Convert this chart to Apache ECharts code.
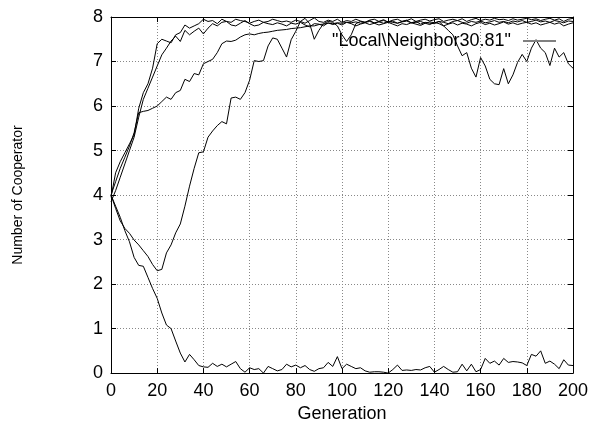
<!DOCTYPE html>
<html>
<head>
<meta charset="utf-8">
<script src="https://cdn.jsdelivr.net/npm/echarts@6/dist/echarts.min.js"></script>
<style>
  html, body { margin: 0; padding: 0; background: #fff; }
  #chart { width: 592px; height: 428px; }
</style>
</head>
<body>
<div id="chart"></div>
<script>
// generations sampled every 2 steps
const generations = [
    0, 2, 4, 6, 8, 10, 12, 14, 16, 18,
    20, 22, 24, 26, 28, 30, 32, 34, 36, 38,
    40, 42, 44, 46, 48, 50, 52, 54, 56, 58,
    60, 62, 64, 66, 68, 70, 72, 74, 76, 78,
    80, 82, 84, 86, 88, 90, 92, 94, 96, 98,
    100, 102, 104, 106, 108, 110, 112, 114, 116, 118,
    120, 122, 124, 126, 128, 130, 132, 134, 136, 138,
    140, 142, 144, 146, 148, 150, 152, 154, 156, 158,
    160, 162, 164, 166, 168, 170, 172, 174, 176, 178,
    180, 182, 184, 186, 188, 190, 192, 194, 196, 198,
    200
];

// run that dies out
const runA = [
    4.0, 3.75, 3.5, 3.2, 2.95, 2.6, 2.42, 2.4, 2.15, 1.9,
    1.68, 1.35, 1.08, 1.0, 0.72, 0.45, 0.25, 0.42, 0.3, 0.17,
    0.14, 0.13, 0.22, 0.15, 0.2, 0.14, 0.2, 0.26, 0.1, 0.02,
    0.12, 0.08, 0.1, 0.0, 0.15, 0.1, 0.05, 0.08, 0.2, 0.14,
    0.18, 0.12, 0.17, 0.08, 0.04, 0.1, 0.12, 0.24, 0.15, 0.37,
    0.1, 0.2, 0.15, 0.1, 0.12, 0.05, 0.02, 0.03, 0.03, 0.02,
    0.0, 0.08, 0.18, 0.06, 0.07, 0.06, 0.08, 0.07, 0.12, 0.15,
    0.02, 0.08, 0.15, 0.08, 0.02, 0.03, 0.2, 0.05, 0.2, 0.03,
    0.08, 0.33, 0.22, 0.27, 0.18, 0.33, 0.24, 0.26, 0.25, 0.23,
    0.17, 0.42, 0.38, 0.5, 0.22, 0.27, 0.2, 0.1, 0.3, 0.18,
    0.17
];

// dips to ~2.3 then recovers
const runB = [
    4.0, 3.7, 3.42, 3.25, 3.14, 2.99, 2.88, 2.75, 2.62, 2.44,
    2.3, 2.33, 2.7, 2.88, 3.15, 3.35, 3.75, 4.2, 4.6, 4.95,
    4.97, 5.3, 5.44, 5.56, 5.65, 5.6, 6.18, 6.2, 6.15, 6.3,
    6.58, 7.02, 7.0, 7.02, 7.35, 7.53, 7.5, 7.3, 7.1, 7.49,
    7.68, 7.9, 7.97, 7.85, 7.5, 7.7, 7.85, 7.9, 7.88, 7.8,
    7.6, 7.45, 7.6, 7.85, 7.9, 7.88, 7.92, 7.86, 7.9, 7.94,
    7.88, 7.91, 7.86, 7.9, 7.93, 7.87, 7.9, 7.84, 7.88, 7.86,
    7.85, 7.9, 7.8, 7.7, 7.6, 7.35, 7.13, 7.2, 6.85, 6.65,
    7.09, 6.9, 6.6, 6.5, 6.48, 6.84, 6.5, 6.7, 6.98, 7.16,
    7.0, 7.3, 7.49, 7.3, 7.2, 6.91, 7.3, 7.1, 7.2, 6.95,
    6.85
];

const runC = [
    4.0, 4.3, 4.6, 4.85, 5.1, 5.4, 5.85, 5.88, 5.9, 5.95,
    6.0, 6.1, 6.2, 6.15, 6.3, 6.35, 6.6, 6.55, 6.73, 6.7,
    6.95, 7.0, 7.05, 7.2, 7.4, 7.46, 7.45, 7.48, 7.55, 7.6,
    7.62, 7.6, 7.63, 7.65, 7.66, 7.68, 7.7, 7.71, 7.72, 7.74,
    7.75, 7.76, 7.78, 7.8, 7.8, 7.83, 7.84, 7.86, 7.85, 7.87,
    7.86, 7.88, 7.87, 7.89, 7.86, 7.88, 7.9, 7.87, 7.89, 7.86,
    7.9, 7.88, 7.86, 7.89, 7.91, 7.87, 7.88, 7.9, 7.86, 7.89,
    7.87, 7.9, 7.88, 7.85, 7.9, 7.92, 7.88, 7.86, 7.9, 7.88,
    7.91, 7.87, 7.89, 7.92, 7.88, 7.9, 7.87, 7.91, 7.89, 7.92,
    7.88, 7.9, 7.93, 7.89, 7.91, 7.88, 7.92, 7.9, 7.87, 7.91,
    7.9
];

const runD = [
    3.95, 4.5, 4.75, 4.95, 5.15, 5.35, 5.95, 6.3, 6.5, 6.85,
    7.4, 7.5, 7.46, 7.42, 7.6, 7.65, 7.82, 7.75, 7.8, 7.85,
    7.95, 7.9, 7.92, 7.85, 7.95, 7.9, 7.88, 7.95, 7.92, 7.9,
    7.86, 7.9, 7.93, 7.88, 7.9, 7.95, 7.92, 7.89, 7.91, 7.88,
    7.93, 7.9, 7.86, 7.92, 7.98, 7.9, 7.88, 7.93, 7.9, 7.95,
    7.88, 7.92, 7.9, 7.95, 7.91, 7.88, 7.93, 7.95, 7.9, 7.92,
    7.89, 7.93, 7.95, 7.9, 7.92, 7.96, 7.9, 7.93, 7.95, 7.91,
    7.94, 7.96, 7.9, 7.93, 7.95, 7.92, 7.96, 7.9, 7.94, 7.97,
    7.92, 7.95, 7.93, 7.97, 7.94, 7.95, 7.92, 7.96, 7.93, 7.95,
    7.97, 7.94, 7.96, 7.92, 7.95, 7.97, 7.93, 7.96, 7.9, 7.95,
    7.97
];

const runE = [
    3.85, 4.1, 4.4, 4.7, 5.0, 5.3, 5.75, 6.15, 6.4, 6.65,
    6.9, 7.15, 7.3, 7.46, 7.57, 7.45, 7.7, 7.6, 7.68, 7.75,
    7.62, 7.75, 7.85, 7.8, 7.88, 7.9, 7.82, 7.8, 7.86, 7.92,
    7.85, 7.8, 7.82, 7.88, 7.85, 7.83, 7.87, 7.84, 7.8, 7.86,
    7.84, 7.88, 7.82, 7.78, 7.85, 7.84, 7.8, 7.87, 7.83, 7.86,
    7.82, 7.88, 7.85, 7.8, 7.84, 7.87, 7.83, 7.86, 7.82, 7.85,
    7.88, 7.84, 7.8, 7.85, 7.83, 7.87, 7.84, 7.81, 7.86, 7.83,
    7.88, 7.85, 7.8, 7.84, 7.87, 7.82, 7.86, 7.84, 7.8, 7.85,
    7.88, 7.83, 7.86, 7.82, 7.85, 7.89, 7.84, 7.87, 7.83, 7.86,
    7.88, 7.84, 7.87, 7.82, 7.85, 7.88, 7.84, 7.87, 7.8, 7.84,
    7.87
];

const runs = [runA, runB, runC, runD, runE];
const seriesName = '"Local\\Neighbor30.81"';
const font = 'Liberation Sans, Helvetica, Arial, sans-serif';

const chart = echarts.init(document.getElementById('chart'), null, { renderer: 'canvas' });

const tickStyle = { show: true, inside: true, length: 5, lineStyle: { color: '#000', width: 1 } };
const borderLine = { show: true, onZero: false, lineStyle: { color: '#000', width: 1 } };
const gridLine = { show: true, lineStyle: { color: '#888', type: [1, 2], width: 1 } };

chart.setOption({
    animation: false,
    backgroundColor: '#fff',
    textStyle: { fontFamily: font },
    grid: { left: 111, right: 19, top: 17, bottom: 47 },
    legend: {
        data: [{ name: seriesName, icon: 'rect' }],
        right: 31,
        top: 27,
        align: 'right',
        itemWidth: 33,
        itemHeight: 2,
        itemStyle: { color: '#808080' },
        textStyle: { fontFamily: font, fontSize: 18, color: '#000', padding: [0, 7, 0, 0] }
    },
    xAxis: [
        {
            type: 'value', min: 0, max: 200, interval: 20,
            name: 'Generation', nameLocation: 'middle', nameGap: 28,
            nameTextStyle: { fontFamily: font, fontSize: 18, color: '#000' },
            axisLine: borderLine, axisTick: tickStyle,
            axisLabel: { color: '#000', fontSize: 18, margin: 9, fontFamily: font },
            splitLine: gridLine
        },
        {
            type: 'value', position: 'top', min: 0, max: 200, interval: 20,
            axisLine: borderLine, axisTick: tickStyle,
            axisLabel: { show: false }, splitLine: { show: false }
        }
    ],
    yAxis: [
        {
            type: 'value', min: 0, max: 8, interval: 1,
            name: 'Number of Cooperator', nameLocation: 'middle', nameGap: 86, nameRotate: 90,
            nameTextStyle: { fontFamily: font, fontSize: 14, color: '#000' },
            axisLine: borderLine, axisTick: tickStyle,
            axisLabel: { color: '#000', fontSize: 18, margin: 8, fontFamily: font },
            splitLine: gridLine
        },
        {
            type: 'value', position: 'right', min: 0, max: 8, interval: 1,
            axisLine: borderLine, axisTick: tickStyle,
            axisLabel: { show: false }, splitLine: { show: false }
        }
    ],
    series: runs.map(run => ({
        name: seriesName,
        type: 'line',
        showSymbol: false,
        symbol: 'none',
        lineStyle: { color: '#000', width: 1 },
        itemStyle: { color: '#000' },
        data: generations.map((g, i) => [g, run[i]])
    }))
});
</script>
</body>
</html>
